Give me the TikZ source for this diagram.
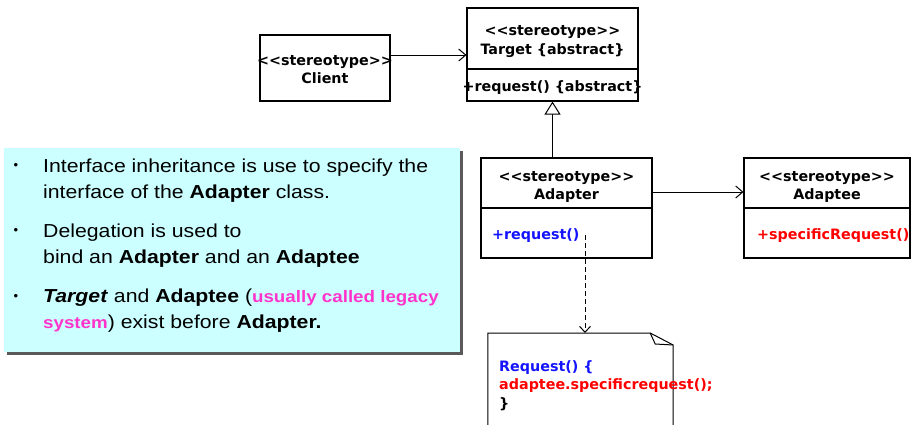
\documentclass[tikz,border=0pt]{standalone}
\usepackage{fontspec}
\setmainfont{Liberation Sans}
\newfontfamily\panelfont[FakeStretch=1.13]{Liberation Sans}
\newfontfamily\umlfont[Ligatures=TeXOff]{DejaVu Sans}
\usetikzlibrary{arrows.meta}
\definecolor{panelcyan}{HTML}{CCFFFF}
\definecolor{panelshadow}{HTML}{5A5A5A}
\definecolor{opblue}{HTML}{1414FF}
\definecolor{opred}{HTML}{FF0000}
\definecolor{legacypink}{HTML}{FF33CC}
\begin{document}
\begin{tikzpicture}[x=1pt,y=-1pt,
  compartment/.style={draw, line width=1.1pt, fill=white, inner sep=0pt},
  umltext/.style={font=\umlfont\bfseries\fontsize{14.3}{18}\selectfont, inner sep=0pt, anchor=base},
  optext/.style={umltext, anchor=base west},
  bullettext/.style={font=\panelfont\fontsize{18.8}{26}\selectfont, inner sep=0pt, anchor=base west},
  bulletdot/.style={font=\fontsize{13}{13}\selectfont, inner sep=0pt},
  assoc/.style={line width=1pt, -{Straight Barb[length=7pt,width=12pt]}},
  inherit/.style={line width=1pt, -{Triangle[open,length=13pt,width=16pt,fill=white]}},
  depend/.style={line width=1pt, dashed, dash pattern=on 5pt off 3pt, -{Straight Barb[length=6pt,width=11pt]}}]
\useasboundingbox (0,0) rectangle (912,424);
\clip (0,0) rectangle (912,424);

% explanation panel with drop shadow
\fill[panelshadow] (7,151) rectangle (463,355);
\node[fill=panelcyan, minimum width=456pt, minimum height=204pt, inner sep=0pt, anchor=north west] (panel) at (4,148) {};
\node[bulletdot] (b1) at (16,166) {•};
\node[bulletdot] (b2) at (16,231) {•};
\node[bulletdot] (b3) at (16,297) {•};
\node[bullettext] (l1) at (43,172) {Interface inheritance is use to specify the};
\node[bullettext] (l2) at (43,198) {interface of the \textbf{Adapter} class.};
\node[bullettext] (l3) at (43,237) {Delegation is used to};
\node[bullettext] (l4) at (43,263) {bind an \textbf{Adapter} and an \textbf{Adaptee}};
\node[bullettext] (l5) at (43,302) {\textbf{\textit{Target}} and \textbf{Adaptee} (\textcolor{legacypink}{\bfseries\fontsize{16.6}{26}\selectfont usually called legacy}};
\node[bullettext] (l6) at (43,328) {\textcolor{legacypink}{\bfseries\fontsize{16.6}{26}\selectfont system}) exist before \textbf{Adapter.}};

% Client
\node[compartment, minimum width=130pt, minimum height=66pt] (client) at (325,68) {};
\node[umltext] (clientst) at (325,65) {<<stereotype>>};
\node[umltext] (clientnm) at (325,83.5) {Client};

% Target
\node[compartment, minimum width=171pt, minimum height=61pt] (targethead) at (552.5,38.5) {};
\node[compartment, minimum width=171pt, minimum height=32pt] (targetops) at (552.5,85) {};
\node[umltext] (targetst) at (552.5,35) {<<stereotype>>};
\node[umltext] (targetnm) at (552.5,54) {Target \{abstract\}};
\node[umltext] (targetop) at (552.5,91) {+request() \{abstract\}};

% Adapter
\node[compartment, minimum width=171pt, minimum height=50pt] (adapterhead) at (566.5,183) {};
\node[compartment, minimum width=171pt, minimum height=50pt] (adapterops) at (566.5,233) {};
\node[umltext] (adapterst) at (566.5,181) {<<stereotype>>};
\node[umltext] (adapternm) at (566.5,199.5) {Adapter};
\node[optext, text=opblue] (adapterop) at (492,239) {+request()};

% Adaptee
\node[compartment, minimum width=166pt, minimum height=50pt] (adapteehead) at (827,183) {};
\node[compartment, minimum width=166pt, minimum height=50pt] (adapteeops) at (827,233) {};
\node[umltext] (adapteest) at (827,181) {<<stereotype>>};
\node[umltext] (adapteenm) at (827,199.5) {Adaptee};
\node[optext, text=opred] (adapteeop) at (757,239) {+specificRequest()};

% Note attached to Adapter::request()
\node[inner sep=0pt, minimum width=185pt, minimum height=100pt, anchor=north] (note) at (580.5,333) {};
\draw[line width=1pt, fill=white] (note.north west) -- ([xshift=-23pt]note.north east)
  -- ([yshift=-12pt]note.north east) -- (note.south east) -- (note.south west) -- cycle;
\draw[line width=1pt] ([xshift=-23pt]note.north east) -- ([xshift=-18pt,yshift=-11pt]note.north east)
  -- ([yshift=-12pt]note.north east);
\node[optext, text=opblue] (note1) at (499,371) {Request() \{};
\node[optext, text=opred] (note2) at (499,389.5) {adaptee.specificrequest();};
\node[optext] (note3) at (499,408) {\}};

% Connectors
\draw[assoc] ([yshift=13pt]client.east) coordinate (cl) -- (cl -| targethead.west);
\draw[inherit] (targetops.south |- adapterhead.north) -- (targetops.south);
\draw[assoc] ([yshift=-9pt]adapterhead.east) coordinate (ad) -- (ad -| adapteehead.west);
\draw[depend] ([xshift=18.5pt,yshift=-2pt]adapterops.center) coordinate (dp) -- (dp |- note.north);
\end{tikzpicture}
\end{document}
